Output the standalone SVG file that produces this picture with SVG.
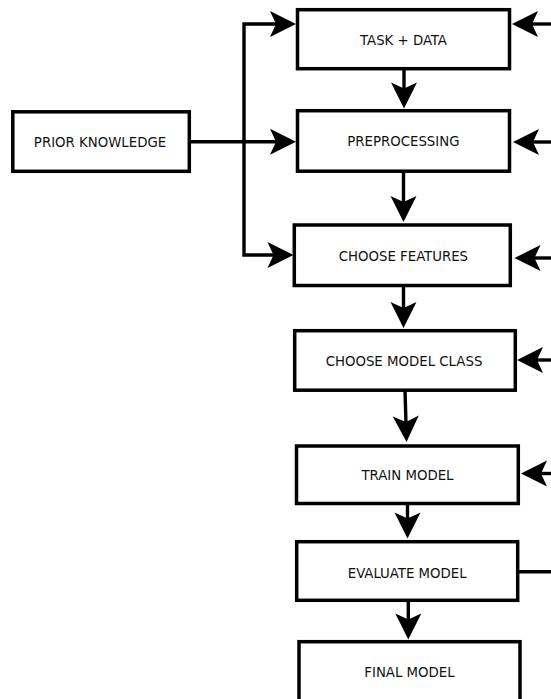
<svg xmlns="http://www.w3.org/2000/svg" width="551" height="699" viewBox="0 0 551 699">
<style>
.box{fill:#fff;stroke:#000;stroke-width:3.5}
.lbl{font-family:"DejaVu Sans Condensed","DejaVu Sans",sans-serif;font-stretch:condensed;font-size:14.8px;fill:#111;text-anchor:middle}
.con{fill:none;stroke:#000;stroke-width:3.4}
</style>
<defs>
<marker id="ah" markerUnits="userSpaceOnUse" markerWidth="30" markerHeight="30" refX="8" refY="13" orient="auto" overflow="visible">
<path d="M0,0 L26,13 L0,26 L6,13 Z" fill="#000"/>
</marker>
</defs>
<rect width="551" height="699" fill="#fff"/>
<g id="connectors">
<path class="con" d="M189,141.7 L278,141.7" marker-end="url(#ah)"/>
<path class="con" d="M244,141.7 L244,24 L278,24" marker-end="url(#ah)"/>
<path class="con" d="M244,141.7 L244,255 L275.5,255" marker-end="url(#ah)"/>
<path class="con" d="M404,69 L404,90.5" marker-end="url(#ah)"/>
<path class="con" d="M403.5,171 L403.5,204" marker-end="url(#ah)"/>
<path class="con" d="M403.5,285.5 L403.5,310" marker-end="url(#ah)"/>
<path class="con" d="M405,390 L406,424" marker-end="url(#ah)"/>
<path class="con" d="M407.5,503.5 L407.5,520.5" marker-end="url(#ah)"/>
<path class="con" d="M408.3,600.3 L408.3,621.5" marker-end="url(#ah)"/>
<path class="con" d="M555,24 L530,24" marker-end="url(#ah)"/>
<path class="con" d="M555,142 L531,142" marker-end="url(#ah)"/>
<path class="con" d="M555,258 L532.5,258" marker-end="url(#ah)"/>
<path class="con" d="M555,360 L535,360" marker-end="url(#ah)"/>
<path class="con" d="M555,473.5 L539,473.5" marker-end="url(#ah)"/>
<path class="con" d="M517.7,571.7 L555,571.7"/>
</g>
<g id="prior-knowledge">
<rect class="box" x="12.8" y="111.8" width="176.5" height="59.5"/>
<text class="lbl" x="100" y="147.1">PRIOR KNOWLEDGE</text>
</g>
<g id="task-data">
<rect class="box" x="297.5" y="9.7" width="212" height="59"/>
<text class="lbl" x="403.5" y="45.2">TASK + DATA</text>
</g>
<g id="preprocessing">
<rect class="box" x="297.5" y="110.7" width="212" height="60.5"/>
<text class="lbl" x="403.4" y="146.4">PREPROCESSING</text>
</g>
<g id="choose-features">
<rect class="box" x="294.3" y="225" width="216" height="60.5"/>
<text class="lbl" x="403.4" y="260.9">CHOOSE FEATURES</text>
</g>
<g id="choose-model-class">
<rect class="box" x="294.7" y="330.7" width="220.6" height="59.5"/>
<text class="lbl" x="404" y="365.9">CHOOSE MODEL CLASS</text>
</g>
<g id="train-model">
<rect class="box" x="296.5" y="446" width="221.8" height="57.5"/>
<text class="lbl" x="407.5" y="480.4">TRAIN MODEL</text>
</g>
<g id="evaluate-model">
<rect class="box" x="296.7" y="541.7" width="221" height="58.6"/>
<text class="lbl" x="407.2" y="577.9">EVALUATE MODEL</text>
</g>
<g id="final-model">
<rect class="box" x="299" y="641.7" width="221" height="62"/>
<text class="lbl" x="409.5" y="677.1">FINAL MODEL</text>
</g>
</svg>
